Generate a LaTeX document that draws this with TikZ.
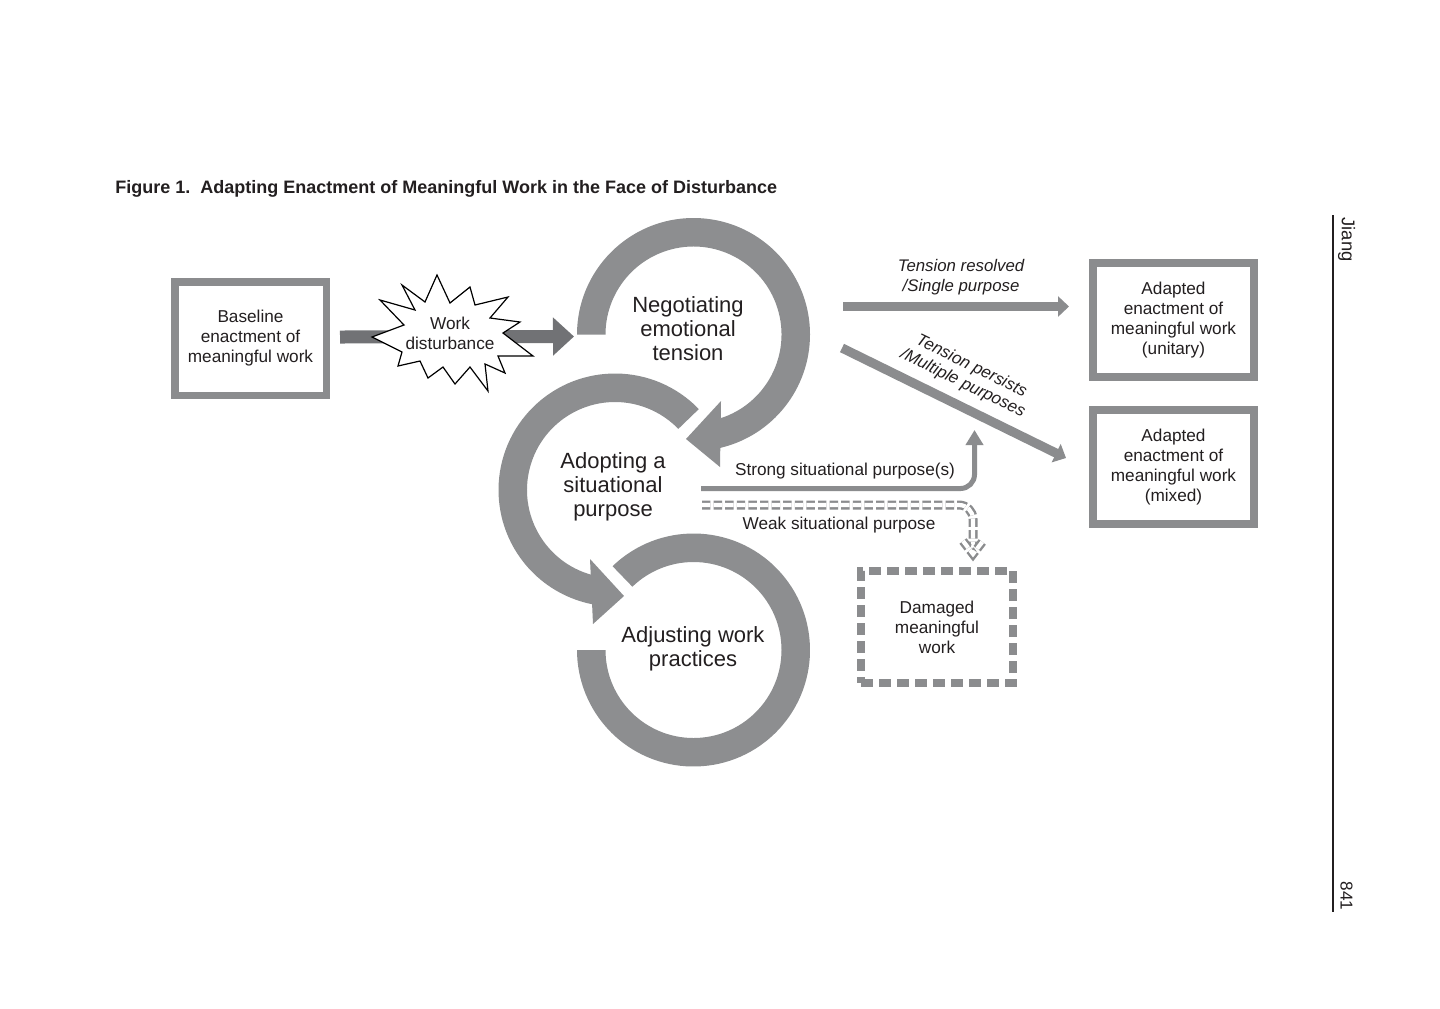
\documentclass[tikz,border=0pt]{standalone}
\usepackage{fontspec}
\setmainfont{Liberation Sans}
\usetikzlibrary{arrows.meta,calc}
\definecolor{ring}{RGB}{141,142,144}
\definecolor{boxg}{RGB}{139,140,142}
\definecolor{darka}{RGB}{113,114,117}
\definecolor{txt}{RGB}{35,31,32}
\begin{document}
\begin{tikzpicture}[x=0.5pt,y=0.5pt,
  small/.style={font=\fontsize{8.6}{10}\selectfont, text=txt, align=center, inner sep=0pt},
  big/.style={font=\fontsize{11}{12}\selectfont, text=txt, align=center, inner sep=0pt},
  itl/.style={font=\fontsize{8.4}{10}\selectfont\itshape, text=txt, align=center, inner sep=0pt},
  framebox/.style={draw=boxg, line width=4pt, minimum width=80.5pt, minimum height=57pt, inner sep=0pt},
  ringfill/.style={fill=ring},
  grayarrow/.style={draw=boxg, line width=4.3pt, -{Triangle[length=5.5pt,width=10pt]}},
  weakline/.style={draw=boxg, line width=1.2pt, double=white, double distance=2.1pt, dash pattern=on 4.2pt off 1.6pt},
  margintext/.style={rotate=-90, text=txt, inner sep=0pt}
  ]
\useasboundingbox (0,0) rectangle (1440,-1008);
\fill[white] (0,0) rectangle (1440,-1008);

% title
\node[anchor=base west, inner sep=0pt, font=\fontsize{9}{11}\selectfont\bfseries, text=txt] (title) at (115,-193)
  {Figure 1.\ \ Adapting Enactment of Meaningful Work in the Face of Disturbance};

% ring centres
\coordinate (c1) at (693.5,-334.5);
\coordinate (c2) at (615,-490);
\coordinate (c3) at (693.5,-650);

% ring 1: Negotiating
\fill[ringfill] (c1) ++(180:116.5) arc[start angle=180, end angle=-76.85, radius=116.5]
  -- ($(c1)+(-72.47:88)$) arc[start angle=-72.47, end angle=180, radius=88] -- cycle;
\fill[ringfill] (721,-401) -- (686,-439) -- (720,-467) -- cycle;

% ring 2: Adopting
\fill[ringfill] (c2) ++(44:116.5) arc[start angle=44, end angle=258.6, radius=116.5]
  -- ($(c2)+(254.85:88)$) arc[start angle=254.85, end angle=44, radius=88] -- cycle;
\fill[ringfill] (590,-559) -- (624,-596) -- (593,-624) -- cycle;

% ring 3: Adjusting
\fill[ringfill] (c3) ++(134:116.5) arc[start angle=134, end angle=-180, radius=116.5]
  -- ($(c3)+(180:88)$) arc[start angle=-180, end angle=134, radius=88] -- cycle;

% ring texts
\node[big] (neg) at (688,-329) {Negotiating\\emotional\\tension};
\node[big] (adopt) at (613,-487) {Adopting a\\situational\\purpose};
\node[big] (adjust) at (693,-649) {Adjusting work\\practices};

% boxes
\node[framebox, line width=3.75pt, minimum width=75.75pt, minimum height=56.75pt, small] (base) at (250.5,-338.5)
  {Baseline\\enactment of\\meaningful work};
\node[framebox, small] (unit) at (1173.5,-320) {Adapted\\enactment of\\meaningful work\\(unitary)};
\node[framebox, small] (mixed) at (1173.5,-467) {Adapted\\enactment of\\meaningful work\\(mixed)};
\node[draw=boxg, line width=4pt, dash pattern=on 6pt off 3pt, minimum width=76pt, minimum height=56pt, small] (dam) at (937,-627)
  {Damaged\\meaningful\\work};

% disturbance arrow
\coordinate (negin) at (574,-336.5);
\draw[darka, line width=6.5pt, -{Triangle[length=10.5pt,width=18.5pt]}] ($(base.east)+(10,1.5)$) -- (negin);

% starburst
\filldraw[fill=white, draw=black, line width=0.6pt, line join=miter]
  (437,-275) -- (450,-303) -- (470,-287) -- (475,-305) -- (508,-297) -- (490,-318)
  -- (520,-322) -- (503,-333) -- (533,-356) -- (498,-356) -- (505,-373) -- (485,-364)
  -- (488,-391) -- (470,-367) -- (455,-384) -- (443,-367) -- (428,-378) -- (420,-361)
  -- (398,-366) -- (402,-352) -- (372,-337) -- (404,-325) -- (380,-300) -- (415,-310)
  -- (402,-285) -- (425,-302) -- cycle;
\node[small] (wd) at (450,-333) {Work\\disturbance};

% outcome arrows
\coordinate (resA) at (843,-306.5);
\coordinate (resB) at (1069,-306.5);
\draw[grayarrow] (resA) -- (resB);
\node[itl] (resl) at (961,-277) {Tension resolved\\/Single purpose};

\coordinate (perA) at (842,-348);
\coordinate (perB) at (1066,-458);
\draw[grayarrow, line width=4.6pt] (perA) -- (perB);
\node[itl, rotate=-26, font=\fontsize{8.4}{9.6}\selectfont\itshape] (perl) at (967,-375) {Tension persists\\/Multiple purposes};

% strong situational purpose
\coordinate (stA) at (701,-488.5);
\coordinate (stC) at (974.5,-488.5);
\coordinate (stB) at (974.5,-430);
\draw[boxg, line width=2.5pt, rounded corners=7pt, -{Triangle[length=7.5pt,width=8.5pt]}] (stA) -- (stC) -- (stB);
\node[small] (strong) at (845,-471) {Strong situational purpose(s)};

% weak situational purpose
\coordinate (wkA) at (702,-505);
\coordinate (wkC) at (973,-505);
\coordinate (wkB) at (973,-547);
\draw[weakline, rounded corners=7pt] (wkA) -- (wkC) -- (wkB);
\draw[weakline, line join=miter] (963,-541) -- (973,-554) -- (983,-541);
\node[small] (weak) at (839,-525) {Weak situational purpose};

% margin
\coordinate (mtop) at (1333,-215);
\coordinate (mbot) at (1333,-912);
\draw[txt, line width=0.6pt] (mtop) -- (mbot);
\node[margintext, font=\fontsize{9.2}{11}\selectfont] (hdr) at (1346.5,-239.5) {Jiang};
\node[margintext, font=\fontsize{8.6}{11}\selectfont] (pg) at (1346.5,-896) {841};
\end{tikzpicture}
\end{document}
